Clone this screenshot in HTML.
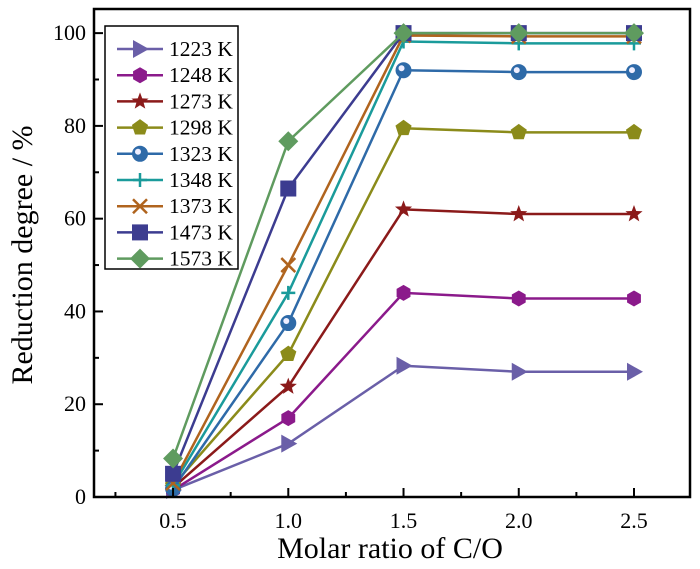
<!DOCTYPE html>
<html><head><meta charset="utf-8"><style>
body{margin:0;background:#fff}
svg{display:block;font-family:"Liberation Serif",serif}
</style></head><body>
<svg id="chart" width="700" height="569"></svg>
<script>
const categories=[0.5,1.0,1.5,2.0,2.5];
const seriesNames=["1223 K","1248 K","1273 K","1298 K","1323 K","1348 K","1373 K","1473 K","1573 K"];
const s1223=[1.5,11.5,28.3,27,27];
const s1248=[1.5,17,44,42.8,42.8];
const s1273=[2,23.8,62,61,61];
const s1298=[2.5,30.8,79.5,78.6,78.6];
const s1323=[1.8,37.5,92,91.6,91.6];
const s1348=[2.5,44,98.2,97.8,97.8];
const s1373=[3,50,99.5,99.3,99.3];
const s1473=[5,66.5,100,100,100];
const s1573=[8.3,76.7,100,100,100];
const xTicks=["0.5","1.0","1.5","2.0","2.5"];
const yTicks=["0","20","40","60","80","100"];
const allSeries=[s1223,s1248,s1273,s1298,s1323,s1348,s1373,s1473,s1573];
const colors=["#6a5fa8","#8b1a8b","#8b1a1a","#8b8b1a","#2e6aa8","#1a9b9b","#b0641e","#3c3c90","#5f9b5f"];
const markers=["tri","hex","star","pent","ball","plus","x","square","diamond"];
const L=94,R=690,T=9,B=497,xmin=0.157,xmax=2.743,ymin=0,ymax=105.2;
const xs=v=>L+(v-xmin)/(xmax-xmin)*(R-L);
const ys=v=>B-(v-ymin)/(ymax-ymin)*(B-T);
const NS="http://www.w3.org/2000/svg";
const svg=document.getElementById('chart');
function mk(tag,attrs,parent){const e=document.createElementNS(NS,tag);for(const k in attrs)e.setAttribute(k,attrs[k]);(parent||svg).appendChild(e);return e;}
function marker(type,x,y,c,g){
  let e;
  if(type==="tri")e=mk('polygon',{points:`${x+9},${y} ${x-7},${y-9} ${x-7},${y+9}`,fill:c},g);
  else if(type==="hex"){let p=[];for(let i=0;i<6;i++){const a=Math.PI/3*i+Math.PI/6;p.push((x+8*Math.cos(a))+","+(y+8*Math.sin(a)));}e=mk('polygon',{points:p.join(' '),fill:c},g);}
  else if(type==="star"){let p=[];for(let i=0;i<10;i++){const r=i%2?3.8:9,a=-Math.PI/2+Math.PI/5*i;p.push((x+r*Math.cos(a))+","+(y+r*Math.sin(a)));}e=mk('polygon',{points:p.join(' '),fill:c},g);}
  else if(type==="pent"){let p=[];for(let i=0;i<5;i++){const a=-Math.PI/2+2*Math.PI/5*i;p.push((x+8.5*Math.cos(a))+","+(y+8.5*Math.sin(a)));}e=mk('polygon',{points:p.join(' '),fill:c},g);}
  else if(type==="ball"){e=mk('circle',{cx:x,cy:y,r:8,fill:c},g);mk('circle',{cx:x-2,cy:y-2,r:3,fill:"#eef"},g);}
  else if(type==="plus"){e=mk('path',{d:`M${x-7},${y}H${x+7}M${x},${y-7}V${y+7}`,stroke:c,'stroke-width':2.5},g);}
  else if(type==="x"){e=mk('path',{d:`M${x-7},${y-7}L${x+7},${y+7}M${x-7},${y+7}L${x+7},${y-7}`,stroke:c,'stroke-width':2.5},g);}
  else if(type==="square")e=mk('rect',{x:x-8,y:y-8,width:16,height:16,fill:c},g);
  else e=mk('polygon',{points:`${x},${y-10} ${x+10},${y} ${x},${y+10} ${x-10},${y}`,fill:c},g);
  return e;
}
allSeries.forEach((s,i)=>{
  const g=mk('g',{});
  
  
  const line=mk('polyline',{points:s.map((v,j)=>xs(categories[j])+","+ys(v)).join(' '),fill:'none',stroke:colors[i],'stroke-width':2.5},g);
  
  
  s.forEach((v,j)=>{const m=marker(markers[i],xs(categories[j]),ys(v),colors[i],g);
    
    });
});
const fr=mk('rect',{x:L,y:T,width:R-L,height:B-T,fill:'none',stroke:'#000','stroke-width':2.5});


xTicks.forEach((t,i)=>{const x=xs(categories[i]);
  mk('line',{x1:x,y1:B,x2:x,y2:B-9,stroke:'#000','stroke-width':2});
  const tx=mk('text',{x:x,y:B+31,'font-size':22,'text-anchor':'middle'});tx.textContent=t;
  
  });
for(let v=0.25;v<2.75;v+=0.5){const x=xs(v);mk('line',{x1:x,y1:B,x2:x,y2:B-5,stroke:'#000','stroke-width':2});}
yTicks.forEach(t=>{const y=ys(+t);
  mk('line',{x1:L,y1:y,x2:L+9,y2:y,stroke:'#000','stroke-width':2});
  const tx=mk('text',{x:L-8,y:y+7,'font-size':22,'text-anchor':'end'});tx.textContent=t;
  
  });
for(let v=10;v<105;v+=20){const y=ys(v);mk('line',{x1:L,y1:y,x2:L+5,y2:y,stroke:'#000','stroke-width':2});}
const xt=mk('text',{x:390,y:558,'font-size':30,'text-anchor':'middle'});xt.textContent="Molar ratio of C/O";


const yt=mk('text',{x:0,y:0,'font-size':30,'text-anchor':'middle',transform:'translate(32,255) rotate(-90)'});yt.textContent="Reduction degree / %";


const lg=mk('g',{});


mk('rect',{x:105,y:26,width:133,height:243,fill:'#fff',stroke:'#000','stroke-width':1.5},lg);
seriesNames.forEach((n,i)=>{const y=49+i*26.2;
  const e=mk('g',{},lg);
  
  
  mk('line',{x1:117,y1:y,x2:163,y2:y,stroke:colors[i],'stroke-width':2.5},e);
  marker(markers[i],140,y,colors[i],e);
  const t=mk('text',{x:169,y:y+7,'font-size':21.5},e);t.textContent=n;});
</script>
</body></html>
